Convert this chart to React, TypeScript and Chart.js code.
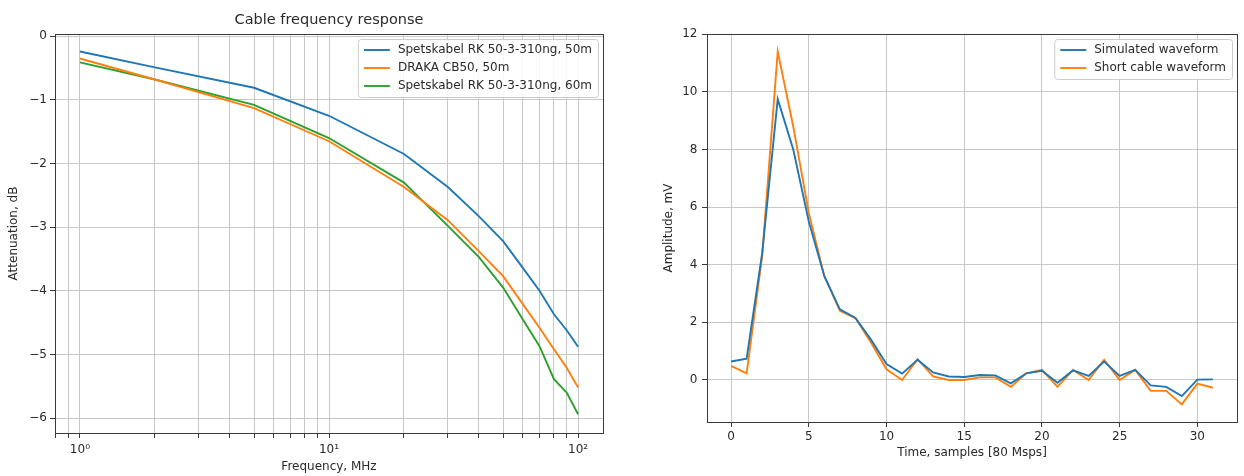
import React, { useEffect, useRef } from "react";
import { Chart, registerables } from "chart.js";

Chart.register(...registerables);

// ---------- data: left chart (cable frequency response) ----------
const freqMHz = [1, 2, 5, 10, 20, 30, 40, 50, 60, 70, 80, 90, 100];
const rk50m = [-0.24, -0.49, -0.81, -1.25, -1.85, -2.37, -2.83, -3.22, -3.64, -4.0, -4.37, -4.62, -4.88];
const draka50m = [-0.35, -0.68, -1.13, -1.65, -2.37, -2.89, -3.38, -3.77, -4.21, -4.58, -4.92, -5.21, -5.52];
const rk60m = [-0.41, -0.68, -1.08, -1.6, -2.3, -2.98, -3.47, -3.95, -4.45, -4.87, -5.39, -5.6, -5.94];
const leftLegend = ["Spetskabel RK 50-3-310ng, 50m", "DRAKA CB50, 50m", "Spetskabel RK 50-3-310ng, 60m"];
const freqGridTicks = [0.8, 0.9, 1, 2, 3, 4, 5, 6, 7, 8, 9, 10, 20, 30, 40, 50, 60, 70, 80, 90, 100];
const freqMajorValues = [1, 10, 100];
const freqMajorLabels = ["10⁰", "10¹", "10²"];
const attenTicks = [-6, -5, -4, -3, -2, -1, 0];

// ---------- data: right chart (waveforms) ----------
const samples = [0, 1, 2, 3, 4, 5, 6, 7, 8, 9, 10, 11, 12, 13, 14, 15, 16, 17, 18, 19, 20, 21, 22, 23, 24, 25, 26, 27, 28, 29, 30, 31];
const simulated = [0.64, 0.74, 4.4, 9.75, 8.0, 5.5, 3.6, 2.45, 2.15, 1.4, 0.55, 0.22, 0.7, 0.26, 0.12, 0.1, 0.17, 0.16, -0.12, 0.23, 0.32, -0.1, 0.33, 0.14, 0.64, 0.14, 0.35, -0.19, -0.24, -0.56, 0.01, 0.02];
const shortCable = [0.49, 0.23, 4.3, 11.4, 8.8, 5.8, 3.6, 2.4, 2.15, 1.3, 0.37, 0.0, 0.72, 0.12, 0.0, 0.0, 0.09, 0.09, -0.24, 0.23, 0.35, -0.24, 0.35, 0.0, 0.7, 0.0, 0.35, -0.38, -0.38, -0.85, -0.13, -0.27];
const rightLegend = ["Simulated waveform", "Short cable waveform"];
const sampleTicks = [0, 5, 10, 15, 20, 25, 30];
const ampTicks = [0, 2, 4, 6, 8, 10, 12];

const FONT = "'DejaVu Sans', sans-serif";
const TXT = "#2a2a2a";
const GRID = "#c8c8c8";
const C_BLUE = "#1f77b4";
const C_ORANGE = "#ff7f0e";
const C_GREEN = "#2ca02c";

const minusFmt = (v: number) => (v < 0 ? "\u2212" + Math.abs(v) : String(v));

const framePlugin = {
  id: "mplFrame",
  afterDatasetsDraw(chart: any) {
    const { ctx, chartArea } = chart;
    ctx.save();
    ctx.strokeStyle = "#3a3a3a";
    ctx.lineWidth = 1;
    ctx.strokeRect(
      Math.round(chartArea.left) + 0.5,
      Math.round(chartArea.top) + 0.5,
      Math.round(chartArea.right - chartArea.left),
      Math.round(chartArea.bottom - chartArea.top)
    );
    ctx.restore();
  },
};

const legendPlugin = {
  id: "mplLegend",
  afterDraw(chart: any, _args: any, opts: any) {
    if (!opts || !opts.labels) return;
    const { ctx, chartArea } = chart;
    ctx.save();
    ctx.font = `12px ${FONT}`;
    const labels: string[] = opts.labels;
    const colors: string[] = opts.colors;
    const textW = Math.max(...labels.map((l) => ctx.measureText(l).width));
    const padL = 6, lineLen = 26, gap = 8, padR = 6, rowH = 18;
    const w = padL + lineLen + gap + textW + padR;
    const h = labels.length * rowH + 4;
    const x = chartArea.right - 5 - w;
    const y = chartArea.top + 5;
    ctx.beginPath();
    (ctx as any).roundRect(x + 0.5, y + 0.5, w, h, 3);
    ctx.fillStyle = "rgba(255,255,255,0.85)";
    ctx.fill();
    ctx.strokeStyle = "#cccccc";
    ctx.lineWidth = 1;
    ctx.stroke();
    labels.forEach((l, i) => {
      const cy = y + 11 + i * rowH;
      ctx.beginPath();
      ctx.moveTo(x + padL, cy);
      ctx.lineTo(x + padL + lineLen, cy);
      ctx.strokeStyle = colors[i];
      ctx.lineWidth = 1.9;
      ctx.stroke();
      ctx.fillStyle = TXT;
      ctx.textBaseline = "middle";
      ctx.textAlign = "left";
      ctx.fillText(l, x + padL + lineLen + gap, cy);
    });
    ctx.restore();
  },
};

function line(label: string, data: any[], color: string) {
  return {
    label,
    data,
    borderColor: color,
    backgroundColor: color,
    borderWidth: 1.9,
    pointRadius: 0,
    tension: 0,
    fill: false,
  };
}

function LeftChart() {
  const ref = useRef<HTMLCanvasElement | null>(null);
  useEffect(() => {
    const font = { family: FONT, size: 12 };
    const chart = new Chart(ref.current as HTMLCanvasElement, {
      type: "line",
      data: {
        datasets: [
          line(leftLegend[0], freqMHz.map((f, i) => ({ x: f, y: rk50m[i] })), C_BLUE),
          line(leftLegend[1], freqMHz.map((f, i) => ({ x: f, y: draka50m[i] })), C_ORANGE),
          line(leftLegend[2], freqMHz.map((f, i) => ({ x: f, y: rk60m[i] })), C_GREEN),
        ],
      },
      options: {
        animation: false,
        responsive: false,
        devicePixelRatio: 1,
        layout: { padding: { left: 0, right: 37, top: 0, bottom: 0 } },
        plugins: {
          legend: { display: false },
          tooltip: { enabled: false },
          title: {
            display: true,
            text: "Cable frequency response",
            fullSize: false,
            color: TXT,
            font: { family: FONT, size: 14.5, weight: "normal" },
            padding: { top: 12, bottom: 4.6 },
          },
          mplLegend: { labels: leftLegend, colors: [C_BLUE, C_ORANGE, C_GREEN] },
        } as any,
        scales: {
          x: {
            type: "logarithmic",
            min: Math.pow(10, -0.1),
            max: Math.pow(10, 2.1),
            bounds: "data",
            afterBuildTicks: (s: any) => {
              s.ticks = freqGridTicks.map((v) => ({ value: v, major: freqMajorValues.includes(v) }));
            },
            afterFit: (s: any) => {
              s.height = 43;
            },
            ticks: {
              autoSkip: false,
              maxRotation: 0,
              minRotation: 0,
              padding: 4.8,
              color: TXT,
              font,
              callback: (v: any) => {
                const idx = freqMajorValues.indexOf(Number(v));
                return idx >= 0 ? freqMajorLabels[idx] : "";
              },
            },
            grid: { color: GRID, lineWidth: 1, tickColor: "#3a3a3a", tickLength: 5 },
            border: { display: false },
            title: { display: true, text: "Frequency, MHz", color: TXT, font, padding: { top: 0, bottom: 2.3 } },
          },
          y: {
            type: "linear",
            min: -6.235,
            max: 0.035,
            bounds: "data",
            afterBuildTicks: (s: any) => {
              s.ticks = attenTicks.map((v) => ({ value: v }));
            },
            afterFit: (s: any) => {
              s.width = 55;
            },
            ticks: { padding: 3, color: TXT, font, callback: (v: any) => minusFmt(Number(v)) },
            grid: { color: GRID, lineWidth: 1, tickColor: "#3a3a3a", tickLength: 5 },
            border: { display: false },
            title: { display: true, text: "Attenuation, dB", color: TXT, font, padding: { top: 6.8, bottom: 0 } },
          },
        } as any,
      },
      plugins: [framePlugin, legendPlugin],
    });
    return () => chart.destroy();
  }, []);
  return <canvas ref={ref} width={640} height={476} style={{ width: 640, height: 476, display: "block" }} />;
}

function RightChart() {
  const ref = useRef<HTMLCanvasElement | null>(null);
  useEffect(() => {
    const font = { family: FONT, size: 12 };
    const chart = new Chart(ref.current as HTMLCanvasElement, {
      type: "line",
      data: {
        datasets: [
          line(rightLegend[0], samples.map((s, i) => ({ x: s, y: simulated[i] })), C_BLUE),
          line(rightLegend[1], samples.map((s, i) => ({ x: s, y: shortCable[i] })), C_ORANGE),
        ],
      },
      options: {
        animation: false,
        responsive: false,
        devicePixelRatio: 1,
        layout: { padding: { left: 0, right: 7, top: 34, bottom: 0 } },
        plugins: {
          legend: { display: false },
          tooltip: { enabled: false },
          mplLegend: { labels: rightLegend, colors: [C_BLUE, C_ORANGE] },
        } as any,
        scales: {
          x: {
            type: "linear",
            min: -1.55,
            max: 32.55,
            bounds: "data",
            afterBuildTicks: (s: any) => {
              s.ticks = sampleTicks.map((v) => ({ value: v }));
            },
            afterFit: (s: any) => {
              s.height = 54;
            },
            ticks: { autoSkip: false, maxRotation: 0, minRotation: 0, padding: 2.8, color: TXT, font },
            grid: { color: GRID, lineWidth: 1, tickColor: "#3a3a3a", tickLength: 5 },
            border: { display: false },
            title: { display: true, text: "Time, samples [80 Msps]", color: TXT, font, padding: { top: 0, bottom: 15.8 } },
          },
          y: {
            type: "linear",
            min: -1.46,
            max: 12.01,
            bounds: "data",
            afterBuildTicks: (s: any) => {
              s.ticks = ampTicks.map((v) => ({ value: v }));
            },
            afterFit: (s: any) => {
              s.width = 67;
            },
            ticks: { padding: 4.6, color: TXT, font, callback: (v: any) => minusFmt(Number(v)) },
            grid: { color: GRID, lineWidth: 1, tickColor: "#3a3a3a", tickLength: 5 },
            border: { display: false },
            title: { display: true, text: "Amplitude, mV", color: TXT, font, padding: { top: 21.5, bottom: 0 } },
          },
        } as any,
      },
      plugins: [framePlugin, legendPlugin],
    });
    return () => chart.destroy();
  }, []);
  return <canvas ref={ref} width={604} height={476} style={{ width: 604, height: 476, display: "block" }} />;
}

export default function App() {
  return (
    <div style={{ position: "fixed", left: 0, top: 0, width: 1244, height: 476, background: "#fff", overflow: "hidden" }}>
      <div style={{ position: "absolute", left: 0, top: 0 }}>
        <LeftChart />
      </div>
      <div style={{ position: "absolute", left: 640, top: 0 }}>
        <RightChart />
      </div>
    </div>
  );
}
